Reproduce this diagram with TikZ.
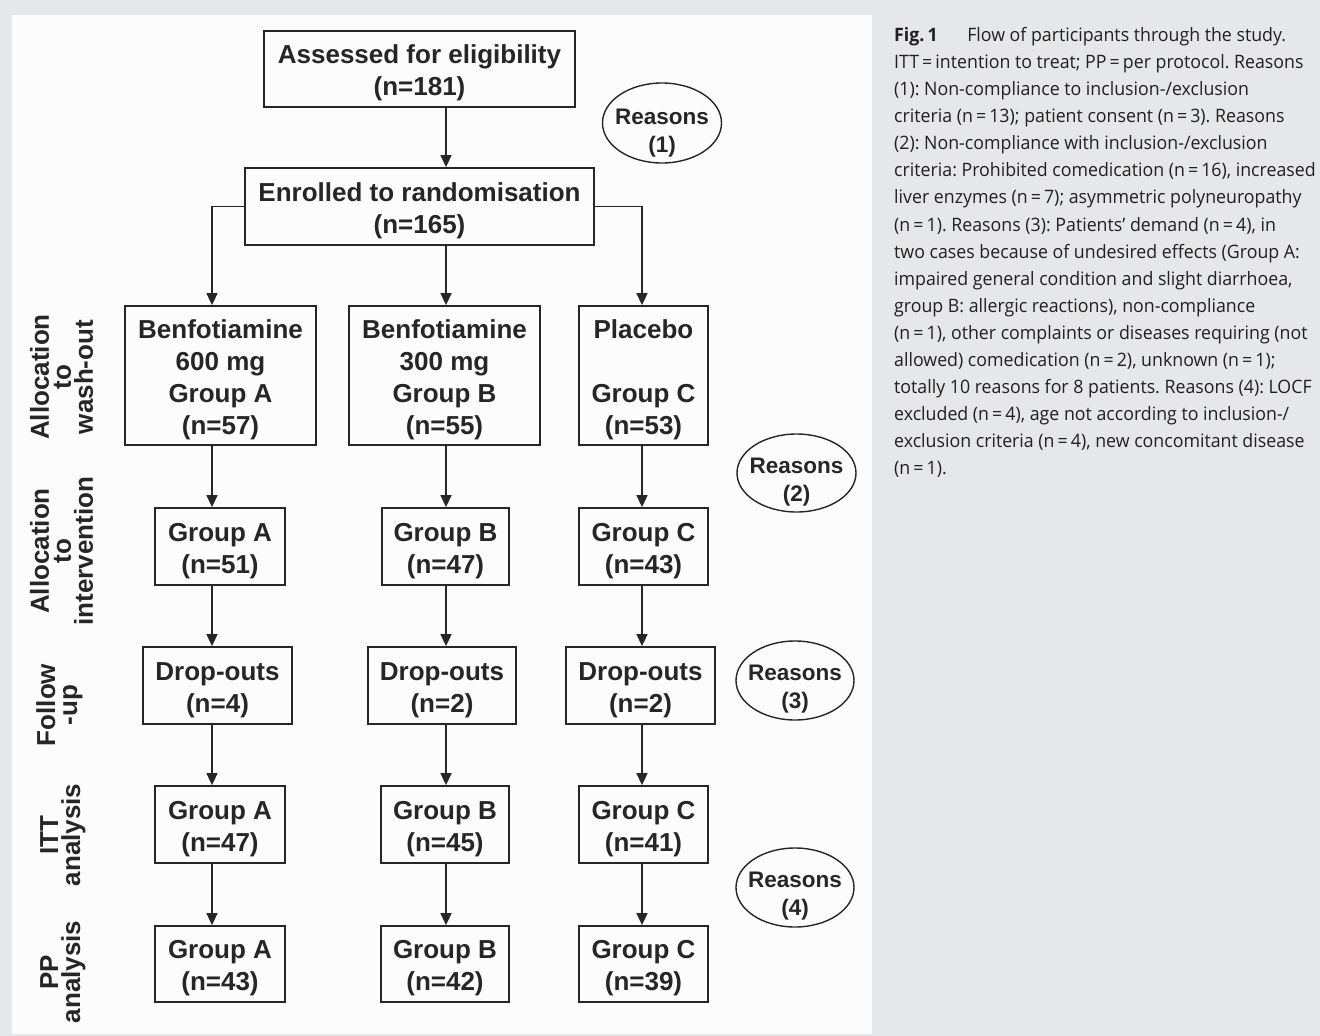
\documentclass[tikz,border=0pt]{standalone}
\usepackage{fontspec}
\setmainfont{Liberation Sans}
\newfontfamily\capfont[FakeStretch=0.96]{Open Sans}
\usetikzlibrary{arrows.meta,shapes.geometric}
\definecolor{bggrey}{HTML}{E6E7E8}
\definecolor{panelc}{HTML}{FCFCFC}
\definecolor{ink}{HTML}{262626}
\definecolor{capink}{HTML}{231F20}
\newcommand{\boxtop}{\rule{0pt}{27pt}}
\begin{document}
\begin{tikzpicture}[x=1pt,y=-1pt,
  box/.style={draw=ink, line width=1.8pt, align=center, inner sep=0pt,
    text=ink, font=\bfseries\fontsize{26}{32}\selectfont},
  reason/.style={ellipse, draw=ink, line width=1.4pt, inner sep=0pt},
  rtext/.style={align=center, inner sep=0pt, text=ink, yshift=-9pt,
    font=\bfseries\fontsize{22.5}{28}\selectfont},
  rowlab/.style={rotate=90, align=center, inner sep=0pt, text=ink,
    font=\bfseries\fontsize{26}{22}\selectfont},
  arr/.style={draw=ink, line width=1.6pt, -{Triangle[length=12pt,width=11pt]}},
  captext/.style={anchor=north west, align=left, inner sep=0pt, text=capink,
    font=\capfont\fontsize{18.5}{27.1}\selectfont\frenchspacing},
]
\useasboundingbox (0,0) rectangle (1320,1036);
\fill[bggrey] (0,0) rectangle (1320,1036);
\fill[panelc] (12,15) rectangle (872,1034);

% column coordinates
\coordinate (xA) at (212,0);
\coordinate (xB) at (446,0);
\coordinate (xC) at (642,0);

% top boxes
\node[box, minimum width=311pt, minimum height=76pt] (assess) at (419.5,69)
  {\boxtop Assessed for eligibility\\(n=181)};
\node[box, minimum width=349pt, minimum height=77pt] (enrol) at (419.5,206.5)
  {\boxtop Enrolled to randomisation\\(n=165)};

% row 1
\node[box, minimum width=191pt, minimum height=139pt] (a1) at (220.5,375.5)
  {\boxtop Benfotiamine\\600 mg\\Group A\\(n=57)};
\node[box, minimum width=191pt, minimum height=139pt] (b1) at (444.5,375.5)
  {\boxtop Benfotiamine\\300 mg\\Group B\\(n=55)};
\node[box, minimum width=129pt, minimum height=139pt] (c1) at (643.5,375.5)
  {\boxtop Placebo\\\mbox{}\\Group C\\(n=53)};

% row 2
\node[box, minimum width=130pt, minimum height=77pt] (a2) at (220,546.5) {\boxtop Group A\\(n=51)};
\node[box, minimum width=127pt, minimum height=77pt] (b2) at (445.5,546.5) {\boxtop Group B\\(n=47)};
\node[box, minimum width=129pt, minimum height=77pt] (c2) at (643.5,546.5) {\boxtop Group C\\(n=43)};

% row 3
\node[box, minimum width=149pt, minimum height=77pt] (a3) at (217.5,685.5) {\boxtop Drop-outs\\(n=4)};
\node[box, minimum width=148pt, minimum height=77pt] (b3) at (442,685.5) {\boxtop Drop-outs\\(n=2)};
\node[box, minimum width=149pt, minimum height=77pt] (c3) at (640.5,685.5) {\boxtop Drop-outs\\(n=2)};

% row 4
\node[box, minimum width=130pt, minimum height=77pt] (a4) at (220,824.5) {\boxtop Group A\\(n=47)};
\node[box, minimum width=128pt, minimum height=77pt] (b4) at (445,824.5) {\boxtop Group B\\(n=45)};
\node[box, minimum width=129pt, minimum height=77pt] (c4) at (643.5,824.5) {\boxtop Group C\\(n=41)};

% row 5
\node[box, minimum width=130pt, minimum height=76pt] (a5) at (220,964) {\boxtop Group A\\(n=43)};
\node[box, minimum width=128pt, minimum height=76pt] (b5) at (445,964) {\boxtop Group B\\(n=42)};
\node[box, minimum width=129pt, minimum height=76pt] (c5) at (643.5,964) {\boxtop Group C\\(n=39)};

% reasons
\node[reason, minimum width=119pt, minimum height=80pt,
  label={[rtext, yshift=-1pt]center:Reasons\\(1)}] (r1) at (662,123) {};
\node[reason, minimum width=119pt, minimum height=78pt,
  label={[rtext]center:Reasons\\(2)}] (r2) at (796.5,473) {};
\node[reason, minimum width=118pt, minimum height=79pt,
  label={[rtext]center:Reasons\\(3)}] (r3) at (795,680.5) {};
\node[reason, minimum width=118pt, minimum height=79pt,
  label={[rtext]center:Reasons\\(4)}] (r4) at (795,887.5) {};

% row labels
\node[rowlab] (l1) at (61.5,377) {Allocation\\to\\wash-out};
\node[rowlab] (l2) at (61.5,551) {Allocation\\to\\intervention};
\node[rowlab] (l3) at (59.5,705) {Follow\\-up};
\node[rowlab] (l4) at (63,835) {ITT\\analysis};
\node[rowlab] (l5) at (63,972) {PP\\analysis};

% connectors
\draw[arr] (assess.south -| xB) -- (enrol.north -| xB);
\draw[arr] (enrol.west) -| (a1.north -| xA);
\draw[arr] (enrol.south -| xB) -- (b1.north -| xB);
\draw[arr] (enrol.east) -| (c1.north -| xC);
\foreach \c/\x in {a/xA,b/xB,c/xC}{
  \draw[arr] (\c1.south -| \x) -- (\c2.north -| \x);
  \draw[arr] (\c2.south -| \x) -- (\c3.north -| \x);
  \draw[arr] (\c3.south -| \x) -- (\c4.north -| \x);
  \draw[arr] (\c4.south -| \x) -- (\c5.north -| \x);
}

% caption
\node[captext] (cap) at (894,27) {%
\textbf{Fig.\,1}\hspace{1.6em}Flow of participants through the study.\\
ITT\,=\,intention to treat; PP\,=\,per protocol. Reasons\\
(1): Non-compliance to inclusion-/exclusion\\
criteria (n\,=\,13); patient consent (n\,=\,3). Reasons\\
(2): Non-compliance with inclusion-/exclusion\\
criteria: Prohibited comedication (n\,=\,16), increased\\
liver enzymes (n\,=\,7); asymmetric polyneuropathy\\
(n\,=\,1). Reasons (3): Patients’ demand (n\,=\,4), in\\
two cases because of undesired effects (Group A:\\
impaired general condition and slight diarrhoea,\\
group B: allergic reactions), non-compliance\\
(n\,=\,1), other complaints or diseases requiring (not\\
allowed) comedication (n\,=\,2), unknown (n\,=\,1);\\
totally 10 reasons for 8 patients. Reasons (4): LOCF\\
excluded (n\,=\,4), age not according to inclusion-/\\
exclusion criteria (n\,=\,4), new concomitant disease\\
(n\,=\,1).};
\end{tikzpicture}
\end{document}
